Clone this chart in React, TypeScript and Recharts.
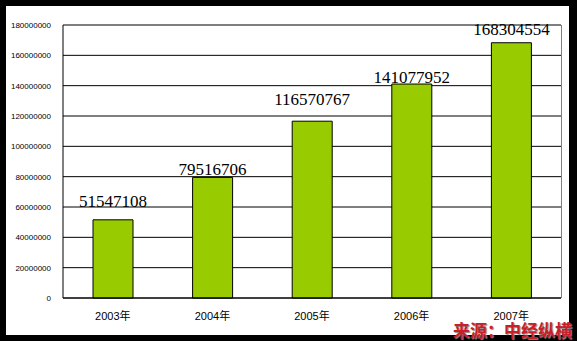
import React from "react";
import { BarChart, Bar, XAxis, YAxis, CartesianGrid, LabelList, ReferenceLine } from "recharts";

const years = ["2003年", "2004年", "2005年", "2006年", "2007年"];
const values = [51547108, 79516706, 116570767, 141077952, 168304554];
const yTicks = [0, 20000000, 40000000, 60000000, 80000000, 100000000, 120000000, 140000000, 160000000, 180000000];
const sourceText = "来源：中经纵横";
// gap (px) between each value label's baseline and its bar top, as hand-placed in the original
const labelGaps = [13, 2, 16, 1, 8];

const data = years.map((y, i) => ({ year: y, value: values[i] }));

const ValueLabel = (props: any) => {
  const { x, y, width, value, index } = props;
  const gap = labelGaps[index] ?? 8;
  return (
    <text
      x={Number(x) + Number(width) / 2}
      y={Number(y) - gap}
      textAnchor="middle"
      fontSize={17}
      fill="#000"
      fontFamily="Liberation Serif"
    >
      {value}
    </text>
  );
};

export default function App() {
  return (
    <div style={{ position: "absolute", left: 0, top: 0, width: 577, height: 341, background: "#000", overflow: "hidden" }}>
      <div style={{ position: "absolute", left: 6, top: 6, width: 563, height: 329, background: "#fff" }} />
      <div style={{ position: "absolute", left: 0, top: 0 }}>
        <BarChart width={577} height={341} data={data} margin={{ top: 25, right: 16, bottom: 13, left: 0 }} barCategoryGap={0}>
          <CartesianGrid horizontal={true} vertical={false} stroke="#000" strokeWidth={1} />
          <XAxis
            dataKey="year"
            height={30}
            axisLine={{ stroke: "#000" }}
            tickLine={false}
            tick={{ fontSize: 11, fill: "#000", fontFamily: "Liberation Sans, Noto Sans CJK SC" }}
            tickMargin={8}
            interval={0}
          />
          <YAxis
            width={63}
            domain={[0, 180000000]}
            ticks={yTicks}
            interval={0}
            axisLine={{ stroke: "#000" }}
            tickLine={false}
            tickMargin={6}
            tick={{ fontSize: 8, fill: "#000", fontFamily: "Liberation Sans" }}
          />
          <ReferenceLine y={180000000} stroke="#808080" strokeWidth={1} />
          <Bar dataKey="value" fill="#99CC00" stroke="#000" strokeWidth={1} barSize={40} isAnimationActive={false}>
            <LabelList dataKey="value" content={ValueLabel} />
          </Bar>
        </BarChart>
      </div>
      <div style={{ position: "absolute", left: 561, top: 25, width: 1, height: 273, background: "#808080" }} />
      <div
        style={{
          position: "absolute",
          left: 453,
          top: 321,
          fontSize: 17,
          fontWeight: "bold",
          color: "#c8202a",
          fontFamily: "Noto Sans CJK SC",
          lineHeight: "17px",
          whiteSpace: "nowrap",
          textShadow: "1px 1px 1px #888",
        }}
      >
        {sourceText}
      </div>
    </div>
  );
}
